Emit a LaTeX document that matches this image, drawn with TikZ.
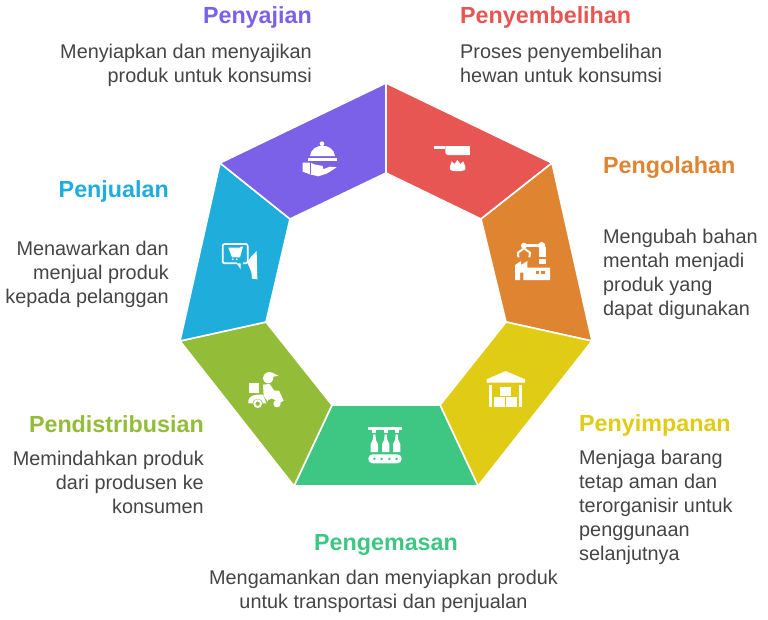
\documentclass[tikz,border=0pt]{standalone}
\usepackage{fontspec}
\setmainfont{Liberation Sans}
\definecolor{cpur}{HTML}{7B61E8}
\definecolor{cred}{HTML}{E85653}
\definecolor{cora}{HTML}{DF8431}
\definecolor{cyel}{HTML}{E0CB15}
\definecolor{cgrn}{HTML}{3DC782}
\definecolor{coli}{HTML}{93BD38}
\definecolor{cblu}{HTML}{1FADDB}
\definecolor{ctxt}{HTML}{454545}
\tikzset{
  seg/.style={draw=white,line width=1.6pt,line join=miter},
  ttl/.style={font=\fontsize{23.3}{28}\selectfont\bfseries,inner sep=0pt},
  dsc/.style={font=\fontsize{19.85}{24}\selectfont,text=ctxt,inner sep=0pt},
  ico/.style={fill=white,draw=none},
  icl/.style={draw=white,fill=none,line width=1.7pt},
  zoomed/.style={shift={#1},x=0.3333pt,y=-0.3333pt},
}
\begin{document}
\begin{tikzpicture}[x=1pt,y=-1pt]
\useasboundingbox (0,0) rectangle (768,619);
\fill[white] (0,0) rectangle (768,619);
% segments
\coordinate (o1) at (386,83);\coordinate (o2) at (552,163);\coordinate (o3) at (592,341);
\coordinate (o4) at (478,486);\coordinate (o5) at (294,486);\coordinate (o6) at (180,341);\coordinate (o7) at (220,163);
\coordinate (i1) at (386,173);\coordinate (i2) at (481,219);\coordinate (i3) at (506,322);
\coordinate (i4) at (440,405);\coordinate (i5) at (332,405);\coordinate (i6) at (266,322);\coordinate (i7) at (290,219);
\fill[cred,seg] (o1)--(o2)--(i2)--(i1)--cycle;
\fill[cora,seg] (o2)--(o3)--(i3)--(i2)--cycle;
\fill[cyel,seg] (o3)--(o4)--(i4)--(i3)--cycle;
\fill[cgrn,seg] (o4)--(o5)--(i5)--(i4)--cycle;
\fill[coli,seg] (o5)--(o6)--(i6)--(i5)--cycle;
\fill[cblu,seg] (o6)--(o7)--(i7)--(i6)--cycle;
\fill[cpur,seg] (o7)--(o1)--(i1)--(i7)--cycle;
% titles
\node[ttl,text=cpur,anchor=base east] (t1) at (312,23) {Penyajian};
\node[ttl,text=cred,anchor=base west] (t2) at (460,23) {Penyembelihan};
\node[ttl,text=cora,anchor=base west] (t3) at (603,173) {Pengolahan};
\node[ttl,text=cblu,anchor=base east] (t4) at (169,197) {Penjualan};
\node[ttl,text=cyel,anchor=base west] (t5) at (579,431) {Penyimpanan};
\node[ttl,text=coli,anchor=base east] (t6) at (204,432) {Pendistribusian};
\node[ttl,text=cgrn,anchor=base] (t7) at (386,550) {Pengemasan};
% descriptions
\node[dsc,align=right,anchor=north east] (d1) at (312,43.5) {Menyiapkan dan menyajikan\\produk untuk konsumsi};
\node[dsc,align=left,anchor=north west] (d2) at (460,43.5) {Proses penyembelihan\\hewan untuk konsumsi};
\node[dsc,align=left,anchor=north west] (d3) at (603,228.5) {Mengubah bahan\\mentah menjadi\\produk yang\\dapat digunakan};
\node[dsc,align=right,anchor=north east] (d4) at (169,240.5) {Menawarkan dan\\menjual produk\\kepada pelanggan};
\node[dsc,align=left,anchor=north west] (d5) at (579,449.5) {Menjaga barang\\tetap aman dan\\terorganisir untuk\\penggunaan\\selanjutnya};
\node[dsc,align=right,anchor=north east] (d6) at (204,450.5) {Memindahkan produk\\dari produsen ke\\konsumen};
\node[dsc,align=center,anchor=north] (d7) at (383.5,569.5) {Mengamankan dan menyiapkan produk\\untuk transportasi dan penjualan};
% icon: cloche
\begin{scope}[zoomed={(290,130)}]
\fill[ico] (96,41) circle (7);
\fill[ico] (60,78) .. controls (62,58) and (80,47) .. (97,47) .. controls (115,47) and (133,58) .. (135,78) -- cycle;
\fill[ico] (55,83) rectangle (140,93);
\fill[ico] (38,98) -- (62,98) -- (72,103) -- (98,108) -- (100,116) -- (88,122) -- (120,110) -- (140,112) -- (112,130) -- (85,139) -- (60,133) -- (38,125) -- cycle;
\draw[cpur,line width=0.8pt] (60,97) -- (60,133);
\end{scope}
% icon: pan and flame
\begin{scope}[zoomed={(290,130)}]
\fill[ico] (432,48) rectangle (465,57);
\fill[ico] (466,48) -- (540,48) -- (540,75) -- (474,75) .. controls (468,75) and (466,70) .. (466,65) -- cycle;
\fill[ico] (480,110) -- (485,94) -- (494,102) -- (502,90) -- (511,102) -- (520,94) -- (526,110) .. controls (528,120) and (522,123) .. (515,123) -- (490,123) .. controls (484,123) and (478,120) .. (480,110) -- cycle;
\end{scope}
% icon: factory and robot arm
\begin{scope}[zoomed={(500,230)}]
\fill[ico] (72,47) circle (9);
\fill[ico] (125,47) circle (11);
\fill[ico] (72,43) rectangle (125,50);
\fill[ico] (118,50) rectangle (137,80);
\draw[white,line width=2pt] (55,82) -- (54,68) -- (72,55) -- (90,68) -- (88,82);
\fill[ico] (118,87) rectangle (139,102);
\fill[ico] (45,150) -- (45,105) -- (63,93) -- (63,105) -- (82,93) -- (82,113) -- (150,113) -- (150,150) -- (70,150) -- (70,128) -- (60,128) -- (60,150) -- cycle;
\fill[cora] (108,123) rectangle (118,132);
\fill[cora] (124,123) rectangle (134,132);
\end{scope}
% icon: warehouse
\begin{scope}[zoomed={(475,360)}]
\fill[ico] (35,58) -- (92,33) -- (150,58) -- (150,68) -- (35,68) -- cycle;
\fill[ico] (42,75) rectangle (50,140);
\fill[ico] (133,75) rectangle (141,140);
\fill[ico] (76,80) rectangle (107,107);
\fill[ico] (58,112) rectangle (90,140);
\fill[ico] (94,112) rectangle (125,140);
\end{scope}
% icon: bottling line
\begin{scope}[zoomed={(355,420)}]
\fill[ico] (40,21) rectangle (140,31);
\foreach \bx in {58,92,125}{
  \fill[ico] (\bx-6,31) rectangle (\bx+6,40);
  \fill[ico] (\bx-3,43) -- (\bx+3,43) -- (\bx+5,60) -- (\bx+11,72) -- (\bx+11,96) -- (\bx-11,96) -- (\bx-11,72) -- (\bx-5,60) -- cycle;
}
\fill[ico,rounded corners=4.3pt] (40,103) rectangle (140,130);
\foreach \dx in {58,80,103,125}{\fill[cgrn] (\dx,116.5) circle (4);}
\end{scope}
% icon: delivery scooter
\begin{scope}[zoomed={(235,360)}]
\fill[ico] (42,70) rectangle (72,98);
\fill[ico] (84,55) .. controls (84,40) and (100,32) .. (112,38) -- (130,47) -- (115,50) .. controls (115,65) and (108,70) .. (98,70) .. controls (90,70) and (84,64) .. (84,55) -- cycle;
\fill[ico] (84,74) -- (104,72) -- (118,92) -- (132,92) -- (146,122) -- (136,128) -- (100,128) -- (86,108) -- cycle;
\fill[ico] (40,122) .. controls (42,108) and (58,102) .. (84,104) -- (94,130) -- (84,130) .. controls (84,112) and (52,112) .. (52,130) -- (40,130) -- cycle;
\draw[white,line width=2pt] (68,131) circle (10);
\fill[coli] (110,131) circle (15);
\fill[ico] (126,131) circle (11);
\end{scope}
% icon: shop screen and face
\begin{scope}[zoomed={(210,230)}]
\draw[icl,rounded corners=2pt] (38,42) rectangle (113,100);
\fill[cblu] (80,97) rectangle (100,103);
\fill[ico] (80,100) -- (92,100) -- (92,118) -- cycle;
\fill[ico] (55,53) -- (90,53) -- (93,50) -- (99,50) -- (90,82) -- (66,82) -- cycle;
\fill[ico] (68,88) circle (3);
\fill[ico] (80,88) circle (3);
\fill[ico] (140,63) -- (142,148) -- (126,146) -- (124,126) -- (112,97) -- (122,82) -- cycle;
\end{scope}
\end{tikzpicture}
\end{document}
